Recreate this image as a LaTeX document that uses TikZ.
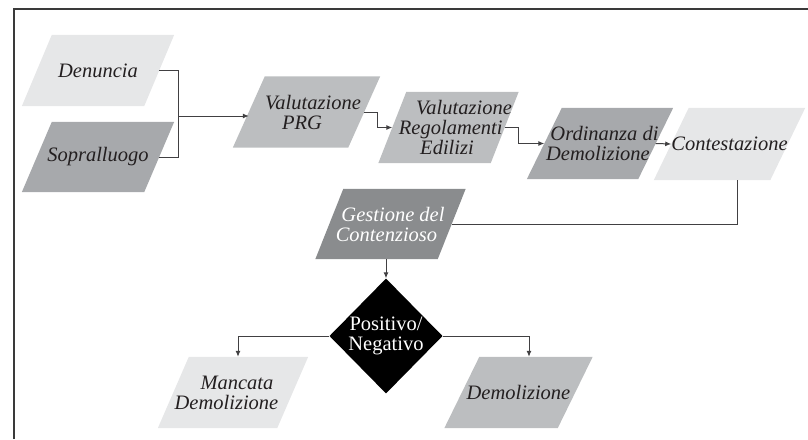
\documentclass[tikz,border=0pt]{standalone}
\usepackage{fontspec}
\setmainfont{Liberation Serif}
\usetikzlibrary{arrows.meta,shapes.geometric,backgrounds}

\definecolor{paleg}{HTML}{E6E7E8}
\definecolor{midg}{HTML}{BCBEC0}
\definecolor{darkg}{HTML}{A7A9AC}
\definecolor{deepg}{HTML}{8A8C8E}
\definecolor{inkc}{HTML}{231F20}
\definecolor{linec}{HTML}{414042}
\definecolor{framec}{HTML}{3A3A3A}

% shift one line of a centred label sideways by #1 pt
\newcommand{\lineoff}[2]{\hspace*{#1pt}#2\hspace*{-#1pt}}
% fill the slanted box behind a node: #1 node, #2 slant (pt), #3 colour
\newcommand{\parafill}[3]{%
  \fill[#3] ([xshift=-#2/2]#1.south west) -- ([xshift=-#2/2]#1.south east)
    -- ([xshift=#2/2]#1.north east) -- ([xshift=#2/2]#1.north west) -- cycle;}

\begin{document}
\begin{tikzpicture}[x=1pt,y=-1pt,
  box/.style={inner sep=0pt, align=center, text=inkc,
    font=\fontsize{20.5}{20}\selectfont\itshape},
  link/.style={draw=linec, line width=1pt},
  >={Latex[length=6pt,width=5pt]}]

\useasboundingbox (0,0) rectangle (808,439);

% outer frame (top and left edges)
\draw[framec, line width=1.5pt] (14,439) -- (14,9) -- (808,9);

% process steps
\node[box, minimum width=122pt, minimum height=71pt] (den) at (98,70.5) {Denuncia};
\node[box, minimum width=122pt, minimum height=70pt] (sop) at (98,157) {Sopralluogo};
\node[box, minimum width=115pt, minimum height=71pt] (prg) at (306.5,112)
  {\lineoff{6.5}{Valutazione}\\\lineoff{-4.5}{PRG}};
\node[box, minimum width=112pt, minimum height=71pt] (reg) at (448.5,127.5)
  {\lineoff{15.5}{Valutazione}\\\lineoff{4.5}{Regolamenti}\\\lineoff{-1.5}{Edilizi}};
\node[box, minimum width=111pt, minimum height=71pt] (ord) at (600,143.5)
  {\lineoff{4.5}{Ordinanza di}\\\lineoff{-2}{Demolizione}};
\node[box, minimum width=116pt, minimum height=72pt] (con) at (729.5,144) {Contestazione};
\node[box, minimum width=122pt, minimum height=70pt, text=white] (ges) at (390.5,224)
  {\lineoff{2.5}{Gestione del}\\\lineoff{-4}{Contenzioso}};
\node[diamond, fill=black, text=white, inner sep=0pt, aspect=1,
  minimum width=113pt, minimum height=115pt, align=center,
  font=\fontsize{20.5}{20}\selectfont] (dia) at (386,336) {Positivo/\\Negativo};
\node[box, minimum width=119pt, minimum height=71pt] (man) at (233,392.5)
  {\lineoff{4}{Mancata}\\\lineoff{-6.5}{Demolizione}};
\node[box, minimum width=113pt, minimum height=71pt] (dem) at (518.5,392.5) {Demolizione};

\begin{scope}[on background layer]
  \parafill{den}{30}{paleg}
  \parafill{sop}{30}{darkg}
  \parafill{prg}{32}{midg}
  \parafill{reg}{28}{midg}
  \parafill{ord}{35}{darkg}
  \parafill{con}{35}{paleg}
  \parafill{ges}{28}{deepg}
  \parafill{man}{31}{paleg}
  \parafill{dem}{35}{midg}
\end{scope}

% connectors
\coordinate (join) at (178,116);
\draw[link] (den.east) -| (join);
\draw[link] (sop.east) -| (join);
\draw[link,->] (join) -- (join -| prg.west);
\draw[link,->] (prg.east) -- ++(13,0) |- (reg.west);
\draw[link,->] (reg.east) -- ++(14,0) |- (ord.west);
\draw[link,->] (ord.east) -- (con.west);
\draw[link] ([xshift=7.5pt]con.south) |- (ges.east);
\draw[link,->] (ges.south -| dia.north) -- (dia.north);
\draw[link,->] (dia.west) -| ([xshift=5pt]man.north);
\draw[link,->] (dia.east) -| ([xshift=10.5pt]dem.north);

\end{tikzpicture}
\end{document}
